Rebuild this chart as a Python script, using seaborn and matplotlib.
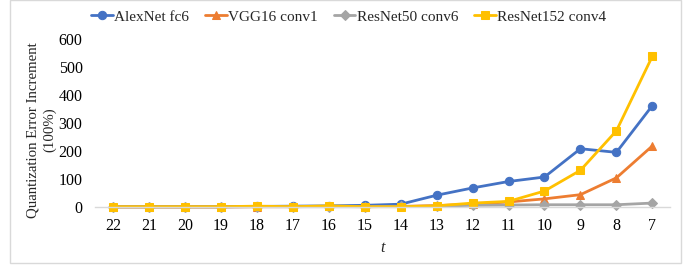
import matplotlib
matplotlib.use("Agg")
from matplotlib import pyplot as plt
from matplotlib.patches import Rectangle
import seaborn as sns
import numpy as np

t_labels = ['22', '21', '20', '19', '18', '17', '16', '15', '14', '13', '12', '11', '10', '9', '8', '7']
alexnet_fc6 = [1, 1, 1, 1, 2, 3, 4, 6, 10, 42, 68, 91, 107, 208, 195, 362]
vgg16_conv1 = [0, 0, 0, 0, 1, 1, 2, 1, 2, 5, 10, 18, 29, 44, 104, 218]
resnet50_conv6 = [0, 0, 0, 0, 1, 1, 1, 1, 2, 3, 6, 7, 8, 8, 8, 14]
resnet152_conv4 = [1, 1, 1, 1, 3, 1, 4, 1, 1, 4, 14, 20, 57, 131, 272, 538]

series = [
    ('AlexNet fc6', alexnet_fc6, '#4472C4', 'o'),
    ('VGG16 conv1', vgg16_conv1, '#ED7D31', '^'),
    ('ResNet50 conv6', resnet50_conv6, '#A5A5A5', 'D'),
    ('ResNet152 conv4', resnet152_conv4, '#FFC000', 's'),
]

sns.set_style('white')
plt.rcParams['font.family'] = ['Liberation Serif', 'DejaVu Serif']

fig = plt.figure(figsize=(6.99, 2.72), dpi=100)
ax = fig.add_axes([0.136, 0.239, 0.823, 0.618])

pos = np.arange(len(t_labels))
for name, vals, col, mk in series:
    ms = 6 if mk != 'D' else 5
    sns.lineplot(x=pos, y=vals, ax=ax, color=col, marker=mk, markersize=ms,
                 markeredgecolor=col, linewidth=2, label=name)

ax.set_xlim(-0.5, len(t_labels) - 0.5)
ax.set_ylim(0, 600)
ax.set_yticks(range(0, 601, 100))
ax.set_xticks(pos)
ax.set_xticklabels(t_labels)
ax.tick_params(axis='both', length=0, labelsize=11.5, colors='black')
ax.tick_params(axis='x', pad=8)
ax.tick_params(axis='y', pad=9)
for s in ['top', 'right', 'left']:
    ax.spines[s].set_visible(False)
ax.spines['bottom'].set_color('#D9D9D9')
ax.spines['bottom'].set_linewidth(1)
for line in ax.lines:
    line.set_clip_on(False)

ax.set_xlabel('t', fontstyle='italic', fontsize=11.5, labelpad=4)
ax.set_ylabel('Quantization Error Increment\n(100%)', fontsize=10.7, linespacing=1.3)
ax.yaxis.set_label_coords(-0.068, 0.46)

ax.legend(loc='lower center', bbox_to_anchor=(0.499, 0.89), bbox_transform=fig.transFigure,
          ncol=4, frameon=False, fontsize=11, handlelength=1.4, handletextpad=0.1,
          columnspacing=1.05, borderaxespad=0)

fig.patches.append(Rectangle((10 / 699, 9 / 272), 671 / 699, 263 / 272,
                             transform=fig.transFigure, fill=False,
                             edgecolor='#D9D9D9', linewidth=1))

fig.savefig('out.png', dpi=100)
